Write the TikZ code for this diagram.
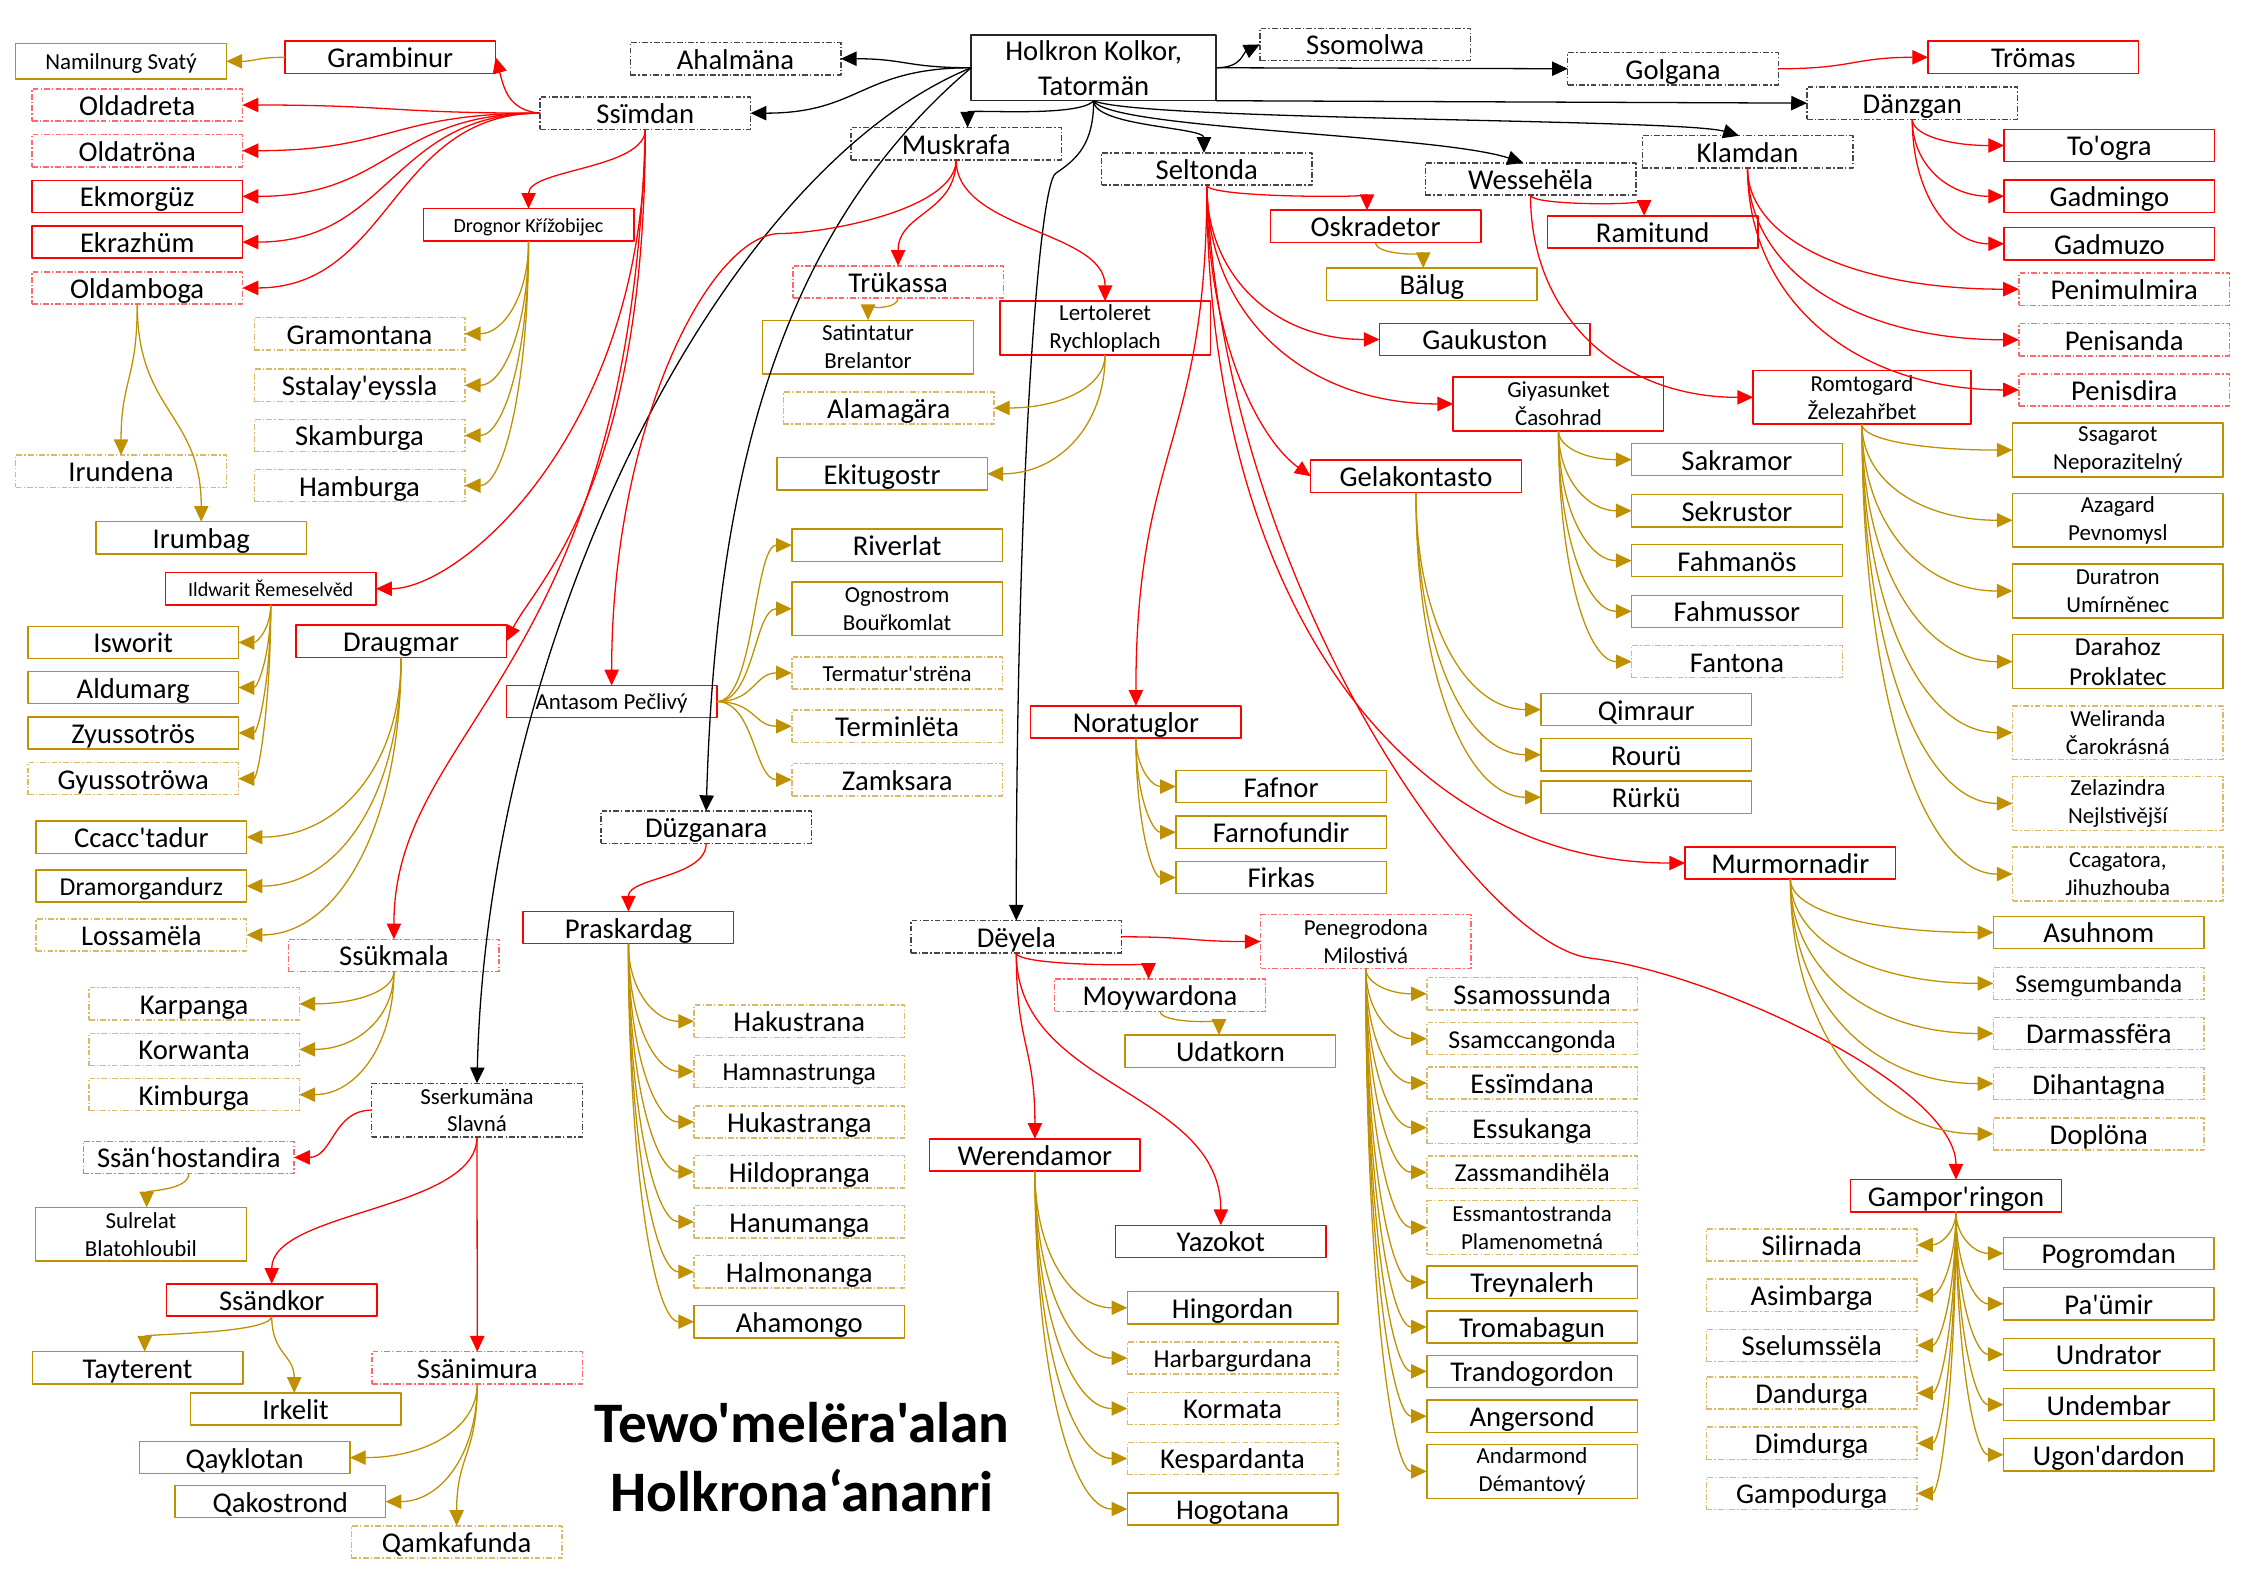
\documentclass[tikz,border=0pt]{standalone}
\usepackage{fontspec}
\setmainfont{Carlito}[Ligatures=TeXOff]
\usetikzlibrary{arrows.meta,calc}
\definecolor{cR}{RGB}{255,0,0}
\definecolor{cRd}{RGB}{255,105,105}
\definecolor{cG}{RGB}{191,144,0}
\definecolor{cGd}{RGB}{218,186,100}
\definecolor{cK}{RGB}{70,70,70}
\newcommand\EVH[3]{\draw[#1] let \p1=(#2), \p2=(#3) in (\p1) .. controls (\x1,{\y1+0.6*(\y2-(\y1))}) and ({\x2-0.6*(\x2-(\x1))},\y2) .. (\p2);}
\newcommand\EVV[3]{\draw[#1] let \p1=(#2), \p2=(#3) in (\p1) .. controls (\x1,{\y1+0.5*(\y2-(\y1))}) and (\x2,{\y2-0.5*(\y2-(\y1))}) .. (\p2);}
\newcommand\EHH[3]{\draw[#1] let \p1=(#2), \p2=(#3) in (\p1) .. controls ({\x1+0.5*(\x2-(\x1))},\y1) and ({\x2-0.5*(\x2-(\x1))},\y2) .. (\p2);}
\tikzset{
  box/.style={draw, line width=1pt, minimum width=147pt, inner sep=0pt, outer sep=0pt},
  f20/.style={font=\fontsize{20}{24}\selectfont, text height=16pt, text depth=1.4pt, minimum height=22.5pt},
  f18/.style={font=\fontsize{18}{21}\selectfont, text height=14.5pt, text depth=1.4pt, minimum height=22.5pt},
  f16/.style={font=\fontsize{16}{19.5}\selectfont, text height=13pt, text depth=1.3pt, minimum height=22.5pt},
  f14/.style={font=\fontsize{14}{17}\selectfont, text height=11.5pt, text depth=1.3pt, minimum height=22.5pt},
  two/.style={font=\fontsize{16}{19.5}\selectfont, align=center, minimum height=37.5pt},
  twob/.style={font=\fontsize{18}{21}\selectfont, align=center, minimum height=37.5pt},
  dd/.style={dash pattern=on 4pt off 1.5pt on 1pt off 1.5pt},
  gd/.style={box, draw=cK, dd},
  rs/.style={box, draw=cR},
  rd/.style={box, draw=cRd, dd},
  ys/.style={box, draw=cG},
  yd/.style={box, draw=cGd, dd},
  arw/.style={-{Triangle[length=11pt,width=10pt]}},
  eb/.style={draw=black, line width=0.9pt, arw},
  er/.style={draw=cR, line width=0.9pt, arw},
  eg/.style={draw=cG, line width=0.9pt, arw},
}
\begin{document}
\begin{tikzpicture}[x=1pt,y=-1pt,line join=round]
\useasboundingbox (0,0) rectangle (1568,1109);
% ---------------- nodes
\node[box, draw=black!85, minimum width=171pt, minimum height=46pt, align=center, font=\fontsize{20}{24.4}\selectfont] (R) at (763.5,47.3) {Holkron Kolkor,\\Tatormän};
\node[gd,f20] (ahal) at (513.5,41) {Ahalmäna};
\node[gd,f20] (ssim) at (450.5,79) {Ssïmdan};
\node[gd,f20] (musk) at (667.5,100.3) {Muskrafa};
\node[gd,f20] (selt) at (842.5,118) {Seltonda};
\node[gd,f20] (wess) at (1068.5,125) {Wessehëla};
\node[gd,f20] (klam) at (1220,106) {Klamdan};
\node[gd,f20] (danz) at (1335,72) {Dänzgan};
\node[gd,f20] (golg) at (1168,48) {Golgana};
\node[gd,f20] (ssom) at (953,31) {Ssomolwa};
\node[gd,f20] (duzg) at (493,577.5) {Düzganara};
\node[gd,f20] (deye) at (709.5,654) {Dëyela};
\node[gd,two] (serk) at (333,775) {Sserkumäna\\Slavná};
\node[rs,f20] (trom) at (1419.5,40) {Trömas};
% Ssimdan subtree
\node[rs,f20] (gram) at (272.5,40) {Grambinur};
\node[ys,f16,minimum height=24.5pt] (nami) at (84.5,42.8) {Namilnurg Svatý};
\node[rd,f20] (olda) at (95.8,73.3) {Oldadreta};
\node[rd,f20] (oldt) at (95.8,105.2) {Oldatröna};
\node[rs,f20] (ekmo) at (95.8,137.1) {Ekmorgüz};
\node[rs,f20] (ekra) at (95.8,169) {Ekrazhüm};
\node[rd,f20] (oldb) at (95.8,201) {Oldamboga};
\node[yd,f20] (irun) at (84.5,329) {Irundena};
\node[ys,f20] (irum) at (140.5,375.5) {Irumbag};
\node[rs,f14] (drog) at (369,157) {Drognor Křížobijec};
\node[yd,f20] (gmon) at (251,233) {Gramontana};
\node[yd,f20] (ssta) at (251,269) {Sstalay'eyssla};
\node[yd,f20] (skam) at (251,304) {Skamburga};
\node[yd,f20] (hamb) at (251,339) {Hamburga};
\node[rs,f14] (ildw) at (189,411) {Ildwarit Řemeselvěd};
\node[ys,f20] (iswo) at (93,448.5) {Isworit};
\node[ys,f20] (aldu) at (93,480) {Aldumarg};
\node[ys,f20] (zyus) at (93,511.7) {Zyussotrös};
\node[yd,f20] (gyus) at (93,543.6) {Gyussotröwa};
\node[rs,f20] (drau) at (280,447.7) {Draugmar};
\node[ys,f20] (ccac) at (98.7,584.4) {Ccacc'tadur};
\node[ys,f18] (dram) at (98.7,618.6) {Dramorgandurz};
\node[yd,f20] (loss) at (98.7,652.7) {Lossamëla};
\node[rd,f20] (ssuk) at (275,667) {Ssükmala};
\node[yd,f20] (karp) at (135.5,700.8) {Karpanga};
\node[yd,f20] (korw) at (135.5,732.6) {Korwanta};
\node[yd,f20] (kimb) at (135.5,764.2) {Kimburga};
% Sserkumana subtree
\node[rd,f20] (ssah) at (131.8,808) {Ssän‘hostandira};
\node[ys,two] (sulr) at (98.4,861.7) {Sulrelat\\Blatohloubil};
\node[rs,f20] (ssan) at (189.7,907.5) {Ssändkor};
\node[ys,f20] (tayt) at (96,954.9) {Tayterent};
\node[ys,f20] (irke) at (206.4,983.7) {Irkelit};
\node[rd,f20] (ssnm) at (333.2,954.9) {Ssänimura};
\node[ys,f20] (qayk) at (170.8,1017.6) {Qayklotan};
\node[ys,f20] (qako) at (195.7,1048.3) {Qakostrond};
\node[yd,f20] (qamk) at (318.8,1076.5) {Qamkafunda};
% Muskrafa subtree
\node[rd,f20] (truk) at (627,196.8) {Trükassa};
\node[ys,two] (sati) at (606,242.3) {Satintatur\\Brelantor};
\node[rs,two] (lert) at (771.5,229) {Lertoleret\\Rychloplach};
\node[yd,f20] (alam) at (620.4,284.8) {Alamagära};
\node[ys,f20] (ekit) at (615.8,330.8) {Ekitugostr};
\node[rs,f16] (anta) at (427,489.8) {Antasom Pečlivý};
\node[ys,f20] (rive) at (626.3,380.6) {Riverlat};
\node[ys,two] (ogno) at (626.3,425) {Ognostrom\\Bouřkomlat};
\node[yd,f16] (term) at (626.3,469.8) {Termatur'strëna};
\node[yd,f20] (teml) at (626.3,507) {Terminlëta};
\node[yd,f20] (zamk) at (626.3,544.3) {Zamksara};
% Duzganara subtree
\node[rs,f20] (pras) at (438.7,647.6) {Praskardag};
\node[yd,f20] (haku) at (558,713) {Hakustrana};
\node[yd,f18] (hamn) at (558,748) {Hamnastrunga};
\node[yd,f20] (huka) at (558,783.3) {Hukastranga};
\node[yd,f20] (hild) at (558,818.1) {Hildopranga};
\node[yd,f20] (hanu) at (558,853) {Hanumanga};
\node[yd,f20] (halm) at (558,887.9) {Halmonanga};
\node[ys,f20] (aham) at (558,922.7) {Ahamongo};
% Seltonda subtree
\node[rs,f20] (oskr) at (960.3,158) {Oskradetor};
\node[ys,f20] (balu) at (999.6,198.4) {Bälug};
\node[rs,f20] (gauk) at (1036.6,237) {Gaukuston};
\node[rs,two] (giya) at (1088,282) {Giyasunket\\Časohrad};
\node[rs,f20] (gela) at (988.5,332.5) {Gelakontasto};
\node[ys,f20] (sakr) at (1212.6,320.9) {Sakramor};
\node[ys,f20] (sekr) at (1212.6,356.6) {Sekrustor};
\node[ys,f20] (fhma) at (1212.6,391.4) {Fahmanös};
\node[ys,f20] (fhmu) at (1212.6,426.8) {Fahmussor};
\node[yd,f20] (fant) at (1212.6,461.9) {Fantona};
\node[ys,f20] (qimr) at (1149.3,495.4) {Qimraur};
\node[ys,f20] (rour) at (1149.3,526.9) {Rourü};
\node[ys,f20] (rurk) at (1149.3,556.6) {Rürkü};
\node[rs,f20] (nora) at (793,504) {Noratuglor};
\node[ys,f20] (fafn) at (894.4,549.1) {Fafnor};
\node[ys,f20] (farn) at (894.4,581) {Farnofundir};
\node[ys,f20] (firk) at (894.4,612.6) {Firkas};
\node[rs,f20] (murm) at (1249.9,602.5) {Murmornadir};
\node[ys,f20] (asuh) at (1465.2,651) {Asuhnom};
\node[yd,f18] (ssem) at (1465.2,686.5) {Ssemgumbanda};
\node[yd,f20] (darm) at (1465.2,721.5) {Darmassfëra};
\node[yd,f20] (diha) at (1465.2,756.5) {Dihantagna};
\node[yd,f20] (dopl) at (1465.2,791.6) {Doplöna};
\node[rs,f20] (gamp) at (1365.5,834.8) {Gampor'ringon};
\node[yd,f20] (sili) at (1264.8,869.1) {Silirnada};
\node[yd,f20] (asim) at (1264.8,904.2) {Asimbarga};
\node[yd,f20] (ssel) at (1264.8,939.2) {Sselumssëla};
\node[yd,f20] (dand) at (1264.8,972.5) {Dandurga};
\node[yd,f20] (dimd) at (1264.8,1007.6) {Dimdurga};
\node[yd,f20] (gpdu) at (1264.8,1042.6) {Gampodurga};
\node[ys,f20] (pogr) at (1472.2,875) {Pogromdan};
\node[ys,f20] (paum) at (1472.2,910.2) {Pa'ümir};
\node[ys,f20] (undr) at (1472.2,945.5) {Undrator};
\node[ys,f20] (unde) at (1472.2,980.6) {Undembar};
\node[ys,f20] (ugon) at (1472.2,1015.6) {Ugon'dardon};
% Wessehela subtree
\node[rs,f20] (rami) at (1153.8,161.9) {Ramitund};
\node[rs,two,minimum width=152pt] (romt) at (1299.9,277.4) {Romtogard\\Železahřbet};
\node[ys,two] (ssag) at (1478.5,314.2) {Ssagarot\\Neporazitelný};
\node[ys,two] (azag) at (1478.5,363.2) {Azagard\\Pevnomysl};
\node[ys,two] (dura) at (1478.5,412.6) {Duratron\\Umírněnec};
\node[ys,twob] (dara) at (1478.5,461.9) {Darahoz\\Proklatec};
\node[yd,two] (weli) at (1478.5,511.5) {Weliranda\\Čarokrásná};
\node[yd,two] (zela) at (1478.5,560.9) {Zelazindra\\Nejlstivější};
\node[yd,two] (ccag) at (1478.5,610.2) {Ccagatora,\\Jihuzhouba};
% Klamdan / Danzgan subtrees
\node[rd,f20] (pnml) at (1483,201.9) {Penimulmira};
\node[rd,f20] (pnsa) at (1483,237.2) {Penisanda};
\node[rd,f20] (pnsd) at (1483,272.2) {Penisdira};
\node[rs,f20] (toog) at (1472.6,101.6) {To'ogra};
\node[rs,f20] (gdmi) at (1472.6,137) {Gadmingo};
\node[rs,f20] (gdmu) at (1472.6,170.2) {Gadmuzo};
% Deyela subtree
\node[rd,two] (pene) at (953.5,657.3) {Penegrodona\\Milostivá};
\node[rd,f20] (moyw) at (809.8,694.7) {Moywardona};
\node[ys,f20] (udat) at (859,733.8) {Udatkorn};
\node[rs,f20] (were) at (722.5,806.3) {Werendamor};
\node[rs,f20] (yazo) at (852.3,866.6) {Yazokot};
\node[ys,f20] (hing) at (860.5,913) {Hingordan};
\node[yd,f18] (harb) at (860.5,948.1) {Harbargurdana};
\node[yd,f20] (korm) at (860.5,983.3) {Kormata};
\node[yd,f20] (kesp) at (860.5,1018.2) {Kespardanta};
\node[ys,f20] (hogo) at (860.5,1053.5) {Hogotana};
\node[yd,f20] (ssmo) at (1069.6,693.8) {Ssamossunda};
\node[yd,f18] (ssmc) at (1069.6,725.1) {Ssamccangonda};
\node[yd,f20] (essi) at (1069.6,756.1) {Essïmdana};
\node[yd,f20] (essu) at (1069.6,787.2) {Essukanga};
\node[yd,f18] (zass) at (1069.6,818.4) {Zassmandihëla};
\node[yd,two] (essm) at (1069.6,857) {Essmantostranda\\Plamenometná};
\node[ys,f20] (trey) at (1069.6,895.1) {Treynalerh};
\node[ys,f20] (trmb) at (1069.6,926.4) {Tromabagun};
\node[ys,f20] (tran) at (1069.6,957.4) {Trandogordon};
\node[ys,f20] (ange) at (1069.6,988.7) {Angersond};
\node[ys,two] (anda) at (1069.6,1027.2) {Andarmond\\Démantový};
% title
\node[font=\bfseries\fontsize{40}{48}\selectfont, anchor=base, inner sep=0pt] (t1) at (560,1007) {Tewo'melëra'alan};
\node[font=\bfseries\fontsize{40}{48}\selectfont, anchor=base, inner sep=0pt] (t2) at (560,1055) {Holkrona‘ananri};
% ---------------- black connectors
\draw[eb] (R.west) .. controls +(-45,0) and +(45,0) .. (ahal.east);
\draw[eb] (R.west) .. controls +(-77,0) and +(77,0) .. (ssim.east);
\draw[eb] (R.west) .. controls +(-133,113) and +(7,-237) .. (duzg.north);
\draw[eb] (R.west) .. controls +(-178,73) and +(7,-306) .. (serk.north);
\draw[eb] (R.south) .. controls +(-10,12) and +(0,-13) .. ([xshift=8pt]musk.north);
\draw[eb] (R.south) .. controls +(0,18) and +(0,-18) .. ([xshift=-2pt]selt.north);
\draw[eb] (R.south) .. controls +(10,20) and +(-60,-20) .. ([xshift=-5pt]wess.north);
\draw[eb] (R.south) .. controls +(30,14) and +(-40,-12) .. ([xshift=-6pt]klam.north);
\draw[eb] (R.south) .. controls +(0,30) and +(15,-10) .. (737,121) .. controls +(-12,8) and +(0,-300) .. (deye.north);
\draw[eb] (R.south east) -- (danz.west);
\draw[eb] (R.east) -- (golg.west);
\draw[eb] (R.east) .. controls +(18,0) and +(-12,6) .. (ssom.west);
% ---------------- red connectors
\EHH{er}{golg.east}{trom.west}
\draw[er] (ssim.west) .. controls +(-22,-2) and +(6,22) .. (gram.east);
\EHH{er}{ssim.west}{olda.east}
\EHH{er}{ssim.west}{oldt.east}
\EHH{er}{ssim.west}{ekmo.east}
\EHH{er}{ssim.west}{ekra.east}
\EHH{er}{ssim.west}{oldb.east}
\EVV{er}{ssim.south}{drog.north}
\draw[er] (ssim.south) .. controls +(0,210) and +(60,0) .. (ildw.east);
\draw[er] (ssim.south) .. controls +(0,250) and +(20,-40) .. (drau.east);
\draw[er] (ssim.south) .. controls +(-10,380) and +(0,-150) .. (ssuk.north);
\EVV{er}{musk.south}{truk.north}
\EVV{er}{musk.south}{lert.north}
\draw[er] (musk.south) .. controls +(0,35) and +(30,0) .. (545,163) .. controls +(-50,0) and +(0,-180) .. (anta.north);
\EVV{er}{duzg.south}{pras.north}
\EHH{er}{serk.west}{ssah.east}
\EVV{er}{serk.south}{ssan.north}
\draw[er] (serk.south) -- (ssnm.north);
\EVV{er}{selt.south}{[xshift=-6pt]oskr.north}
\EVH{er}{selt.south}{gauk.west}
\EVH{er}{selt.south}{giya.west}
\draw[er] (selt.south) .. controls +(0,110) and +(-35,-25) .. (gela.west);
\EVV{er}{selt.south}{nora.north}
\EVH{er}{selt.south}{murm.west}
\draw[er] (selt.south) .. controls +(10,271) and +(-81,-9) .. (1111,669) .. controls +(89,11) and +(0,-64) .. (gamp.north);
\EVV{er}{wess.south}{[xshift=-6pt]rami.north}
\EVH{er}{wess.south}{romt.west}
\EVH{er}{klam.south}{pnml.west}
\EVH{er}{klam.south}{pnsa.west}
\EVH{er}{klam.south}{pnsd.west}
\EVH{er}{danz.south}{toog.west}
\EVH{er}{danz.south}{gdmi.west}
\EVH{er}{danz.south}{gdmu.west}
\EHH{er}{deye.east}{pene.west}
\EVV{er}{deye.south}{[xshift=-8pt]moyw.north}
\EVV{er}{deye.south}{were.north}
\EVV{er}{deye.south}{yazo.north}
% ---------------- gold connectors
\EHH{eg}{gram.west}{nami.east}
\EVV{eg}{oldb.south}{irun.north}
\EVV{eg}{oldb.south}{irum.north}
\EVH{eg}{drog.south}{gmon.east}
\EVH{eg}{drog.south}{ssta.east}
\EVH{eg}{drog.south}{skam.east}
\EVH{eg}{drog.south}{hamb.east}
\EVH{eg}{ildw.south}{iswo.east}
\EVH{eg}{ildw.south}{aldu.east}
\EVH{eg}{ildw.south}{zyus.east}
\EVH{eg}{ildw.south}{gyus.east}
\EVH{eg}{drau.south}{ccac.east}
\EVH{eg}{drau.south}{dram.east}
\EVH{eg}{drau.south}{loss.east}
\EVH{eg}{ssuk.south}{karp.east}
\EVH{eg}{ssuk.south}{korw.east}
\EVH{eg}{ssuk.south}{kimb.east}
\EVV{eg}{ssah.south}{[xshift=4pt]sulr.north}
\EVV{eg}{ssan.south}{[xshift=5pt]tayt.north}
\EVV{eg}{ssan.south}{[xshift=-1pt]irke.north}
\EVH{eg}{ssnm.south}{qayk.east}
\EVH{eg}{ssnm.south}{qako.east}
\EVV{eg}{ssnm.south}{qamk.north}
\EVV{eg}{truk.south}{sati.north}
\EVH{eg}{lert.south}{alam.east}
\EVH{eg}{lert.south}{ekit.east}
\EHH{eg}{anta.east}{rive.west}
\EHH{eg}{anta.east}{ogno.west}
\EHH{eg}{anta.east}{term.west}
\EHH{eg}{anta.east}{teml.west}
\EHH{eg}{anta.east}{zamk.west}
\EVH{eg}{pras.south}{haku.west}
\EVH{eg}{pras.south}{hamn.west}
\EVH{eg}{pras.south}{huka.west}
\EVH{eg}{pras.south}{hild.west}
\EVH{eg}{pras.south}{hanu.west}
\EVH{eg}{pras.south}{halm.west}
\EVH{eg}{pras.south}{aham.west}
\EVV{eg}{oskr.south}{[xshift=-6pt]balu.north}
\EVH{eg}{giya.south}{sakr.west}
\EVH{eg}{giya.south}{sekr.west}
\EVH{eg}{giya.south}{fhma.west}
\EVH{eg}{giya.south}{fhmu.west}
\EVH{eg}{giya.south}{fant.west}
\EVH{eg}{gela.south}{qimr.west}
\EVH{eg}{gela.south}{rour.west}
\EVH{eg}{gela.south}{rurk.west}
\EVH{eg}{nora.south}{fafn.west}
\EVH{eg}{nora.south}{farn.west}
\EVH{eg}{nora.south}{firk.west}
\EVH{eg}{murm.south}{asuh.west}
\EVH{eg}{murm.south}{ssem.west}
\EVH{eg}{murm.south}{darm.west}
\EVH{eg}{murm.south}{diha.west}
\EVH{eg}{murm.south}{dopl.west}
\EVH{eg}{gamp.south}{sili.east}
\EVH{eg}{gamp.south}{asim.east}
\EVH{eg}{gamp.south}{ssel.east}
\EVH{eg}{gamp.south}{dand.east}
\EVH{eg}{gamp.south}{dimd.east}
\EVH{eg}{gamp.south}{gpdu.east}
\EVH{eg}{gamp.south}{pogr.west}
\EVH{eg}{gamp.south}{paum.west}
\EVH{eg}{gamp.south}{undr.west}
\EVH{eg}{gamp.south}{unde.west}
\EVH{eg}{gamp.south}{ugon.west}
\EVH{eg}{romt.south}{ssag.west}
\EVH{eg}{romt.south}{azag.west}
\EVH{eg}{romt.south}{dura.west}
\EVH{eg}{romt.south}{dara.west}
\EVH{eg}{romt.south}{weli.west}
\EVH{eg}{romt.south}{zela.west}
\EVH{eg}{romt.south}{ccag.west}
\EVV{eg}{moyw.south}{[xshift=-8pt]udat.north}
\EVH{eg}{were.south}{hing.west}
\EVH{eg}{were.south}{harb.west}
\EVH{eg}{were.south}{korm.west}
\EVH{eg}{were.south}{kesp.west}
\EVH{eg}{were.south}{hogo.west}
\EVH{eg}{pene.south}{ssmo.west}
\EVH{eg}{pene.south}{ssmc.west}
\EVH{eg}{pene.south}{essi.west}
\EVH{eg}{pene.south}{essu.west}
\EVH{eg}{pene.south}{zass.west}
\EVH{eg}{pene.south}{essm.west}
\EVH{eg}{pene.south}{trey.west}
\EVH{eg}{pene.south}{trmb.west}
\EVH{eg}{pene.south}{tran.west}
\EVH{eg}{pene.south}{ange.west}
\EVH{eg}{pene.south}{anda.west}
\end{tikzpicture}
\end{document}
